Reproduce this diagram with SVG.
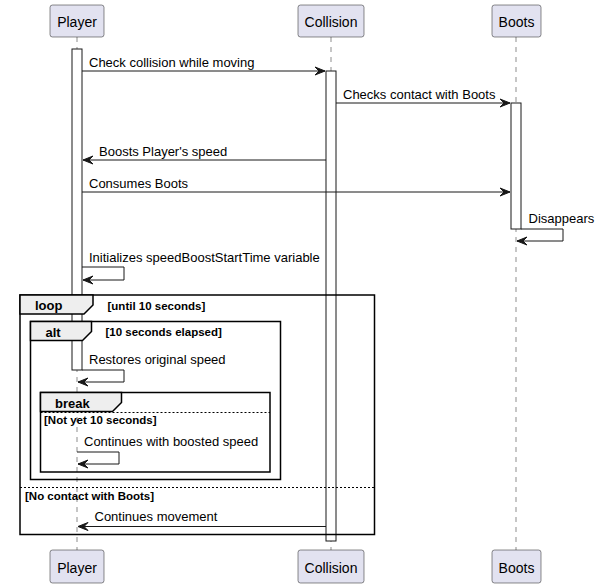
<svg xmlns="http://www.w3.org/2000/svg" width="599" height="588" viewBox="0 0 599 588">
<style>
.life{stroke:#181818;stroke-width:0.5;stroke-dasharray:5,5;fill:none}
.pbox{fill:#E2E2F0;stroke:#181818;stroke-width:0.5}
.pt{font-family:"Liberation Sans",Arial,sans-serif;font-size:14px;fill:#000;text-anchor:middle}
.act{fill:#FFFFFF;stroke:#181818;stroke-width:1}
.msg{stroke:#181818;stroke-width:1;fill:none}
.mt{font-family:"Liberation Sans",Arial,sans-serif;font-size:13px;fill:#000}
.frame{fill:none;stroke:#000;stroke-width:1.5}
.tab{fill:#EEEEEE;stroke:#000;stroke-width:1.5}
.ft{font-family:"Liberation Sans",Arial,sans-serif;font-size:13px;font-weight:bold;fill:#000}
.gt{font-family:"Liberation Sans",Arial,sans-serif;font-size:11.5px;font-weight:bold;fill:#000}
.sep{stroke:#000;stroke-width:1;stroke-dasharray:2,2}
.ah{fill:#181818;stroke:#181818;stroke-width:1}
</style>
<g id="lifelines">
<line class="life" x1="77" y1="37" x2="77" y2="550"/>
<line class="life" x1="331" y1="37" x2="331" y2="550"/>
<line class="life" x1="516" y1="37" x2="516" y2="550"/>
</g>
<g id="Player">
<rect class="pbox" x="50" y="5" width="54" height="32" rx="2.5"/>
<text class="pt" x="77" y="26.5">Player</text>
<rect class="pbox" x="50" y="550" width="54" height="33" rx="2.5"/>
<text class="pt" x="77" y="572.5">Player</text>
</g>
<g id="Collision">
<rect class="pbox" x="298" y="5" width="66" height="32" rx="2.5"/>
<text class="pt" x="331" y="26.5">Collision</text>
<rect class="pbox" x="298" y="550" width="66" height="33" rx="2.5"/>
<text class="pt" x="331" y="572.5">Collision</text>
</g>
<g id="Boots">
<rect class="pbox" x="492" y="5" width="49" height="32" rx="2.5"/>
<text class="pt" x="516.5" y="26.5">Boots</text>
<rect class="pbox" x="492" y="550" width="49" height="33" rx="2.5"/>
<text class="pt" x="516.5" y="572.5">Boots</text>
</g>
<g id="activations">
<rect class="act" x="72" y="49" width="10" height="321"/>
<rect class="act" x="326" y="71" width="10" height="470"/>
<rect class="act" x="511" y="103" width="10" height="126"/>
</g>
<g id="frames">
<rect class="frame" x="20" y="295" width="354.5" height="239.5"/>
<polygon class="tab" points="20,295 93,295 93,305 84,314 20,314"/>
<text class="ft" x="35" y="310">loop</text>
<text class="gt" x="107.5" y="309.5">[until 10 seconds]</text>
<line class="sep" x1="20" y1="487.5" x2="374.5" y2="487.5"/>
<text class="gt" x="25" y="500">[No contact with Boots]</text>
<rect class="frame" x="30.5" y="321.5" width="250" height="158"/>
<polygon class="tab" points="30.5,321.5 91.5,321.5 91.5,331.5 82.5,340.5 30.5,340.5"/>
<text class="ft" x="45.5" y="336.5">alt</text>
<text class="gt" x="105.5" y="335.5">[10 seconds elapsed]</text>
<rect class="frame" x="40.5" y="392.5" width="229.5" height="79.5"/>
<polygon class="tab" points="40.5,392.5 121.5,392.5 121.5,402.5 112.5,411.5 40.5,411.5"/>
<text class="ft" x="55" y="407.5">break</text>
<line class="sep" x1="40.5" y1="412.5" x2="270" y2="412.5"/>
<text class="gt" x="44" y="424">[Not yet 10 seconds]</text>
</g>
<g id="connectors">
<line class="msg" x1="82" y1="71" x2="325" y2="71"/>
<polygon class="ah" points="315,67 325,71 315,75 319,71"/>
<text class="mt" x="89" y="66.5">Check collision while moving</text>

<line class="msg" x1="336" y1="103" x2="510" y2="103"/>
<polygon class="ah" points="500,99 510,103 500,107 504,103"/>
<text class="mt" x="343" y="98.5">Checks contact with Boots</text>

<line class="msg" x1="83" y1="160" x2="326" y2="160"/>
<polygon class="ah" points="93,156 83,160 93,164 89,160"/>
<text class="mt" x="99" y="155.5">Boosts Player's speed</text>

<line class="msg" x1="82" y1="192" x2="510" y2="192"/>
<polygon class="ah" points="500,188 510,192 500,196 504,192"/>
<text class="mt" x="89" y="187.5">Consumes Boots</text>

<polyline class="msg" points="521,229 563,229 563,241 517,241"/>
<polygon class="ah" points="527,237 517,241 527,245 523,241"/>
<text class="mt" x="528.5" y="222.5">Disappears</text>

<polyline class="msg" points="82,267 124,267 124,280 83,280"/>
<polygon class="ah" points="93,276 83,280 93,284 89,280"/>
<text class="mt" x="89" y="261.5">Initializes speedBoostStartTime variable</text>

<polyline class="msg" points="82,370 124,370 124,382 78,382"/>
<polygon class="ah" points="88,378 78,382 88,386 84,382"/>
<text class="mt" x="89" y="364">Restores original speed</text>

<polyline class="msg" points="77,452 119,452 119,464 78,464"/>
<polygon class="ah" points="88,460 78,464 88,468 84,464"/>
<text class="mt" x="84" y="445.5">Continues with boosted speed</text>

<line class="msg" x1="78" y1="526.5" x2="326" y2="526.5"/>
<polygon class="ah" points="88,522.5 78,526.5 88,530.5 84,526.5"/>
<text class="mt" x="94.5" y="521">Continues movement</text>
</g>
</svg>
